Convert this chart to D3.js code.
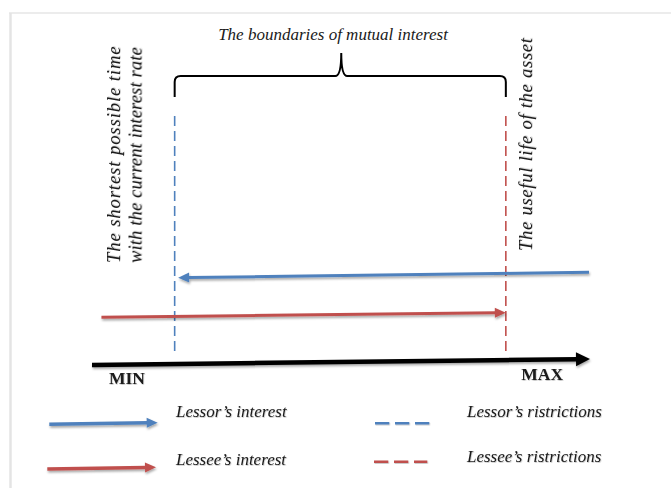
<!DOCTYPE html>
<html>
<head>
<meta charset="utf-8">
<script src="https://cdn.jsdelivr.net/npm/d3@7/dist/d3.min.js"></script>
<style>
  html, body { margin: 0; padding: 0; background: #ffffff; }
  svg { display: block; }
  text { font-family: "Liberation Serif", "Times New Roman", serif; fill: #1a1a1a; }
</style>
</head>
<body>
<svg id="chart" width="671" height="488"></svg>
<script>
// ---------------- data ----------------
const axisLabels = ["MIN", "MAX"];
const axisFrom = [0, 0];        // [x, level]
const axisTo = [100, 2.4];

const interestNames = ["Lessor’s interest", "Lessee’s interest"];
const interestStartX = [99.8, 1.9];
const interestStartLevel = [37.1, 19.1];
const interestEndX = [17.3, 83.1];
const interestEndLevel = [34.9, 20.9];

const restrictionNames = ["Lessor’s ristrictions", "Lessee’s ristrictions"];
const restrictionX = [16.6, 83.1];
const restrictionTop = [99.6, 99.6];
const restrictionBottom = [3.6, 4.0];

const boundaryTitle = "The boundaries of mutual interest";
const restrictionLabels = [
  ["The shortest possible time", "with the current interest rate"],
  ["The useful life of the asset"]
];

// ---------------- layout ----------------
const colors = ["#4F81BD", "#C0504D"];
const svg = d3.select("#chart");
const x = d3.scaleLinear().domain([0, 100]).range([92, 590]);
const y = d3.scaleLinear().domain([0, 100]).range([365, 115]);

const defs = svg.append("defs");
// user-space shadow (for untransformed shapes, incl. zero-height lines)
const f = defs.append("filter").attr("id", "shadow").attr("filterUnits", "userSpaceOnUse")
  .attr("x", 0).attr("y", 0).attr("width", 671).attr("height", 488);
f.append("feDropShadow").attr("dx", 0.8).attr("dy", 1.8).attr("stdDeviation", 1.1)
  .attr("flood-color", "#000").attr("flood-opacity", 0.35);
const fl = defs.append("filter").attr("id", "lshadow").attr("filterUnits", "userSpaceOnUse")
  .attr("x", 0).attr("y", 0).attr("width", 671).attr("height", 488);
fl.append("feDropShadow").attr("dx", 0.6).attr("dy", 0.8).attr("stdDeviation", 0.6)
  .attr("flood-color", "#000").attr("flood-opacity", 0.25);
// bbox-based shadow for text (works with transforms)
const ft = defs.append("filter").attr("id", "tshadow")
  .attr("x", "-10%").attr("y", "-40%").attr("width", "120%").attr("height", "180%");
ft.append("feDropShadow").attr("dx", 0.6).attr("dy", 0.8).attr("stdDeviation", 0.6)
  .attr("flood-color", "#000").attr("flood-opacity", 0.25);

// frame
svg.append("line").attr("x1", 9).attr("y1", 13).attr("x2", 671).attr("y2", 13)
  .attr("stroke", "#ececec").attr("stroke-width", 2);
svg.append("line").attr("x1", 10.5).attr("y1", 13).attr("x2", 10.5).attr("y2", 488)
  .attr("stroke", "#e4e4e4").attr("stroke-width", 2.5);

function arrow(g, x1, y1, x2, y2, color, w, headLen, headW) {
  const dx = x2 - x1, dy = y2 - y1, L = Math.hypot(dx, dy);
  const ux = dx / L, uy = dy / L, nx = -uy, ny = ux;
  const bx = x2 - ux * headLen, by = y2 - uy * headLen;
  const grp = g.append("g").attr("filter", "url(#shadow)");
  grp.append("line").attr("x1", x1).attr("y1", y1)
    .attr("x2", bx + ux * 1).attr("y2", by + uy * 1)
    .attr("stroke", color).attr("stroke-width", w);
  grp.append("path")
    .attr("d", `M${x2},${y2}L${bx + nx * headW / 2},${by + ny * headW / 2}L${bx - nx * headW / 2},${by - ny * headW / 2}Z`)
    .attr("fill", color);
}

// restriction dashed lines
restrictionX.forEach((v, i) => {
  svg.append("line")
    .attr("x1", x(v)).attr("x2", x(v))
    .attr("y1", y(restrictionTop[i])).attr("y2", y(restrictionBottom[i]))
    .attr("stroke", colors[i]).attr("stroke-width", 1.6)
    .attr("stroke-dasharray", "10,5");
});

// interest arrows
interestNames.forEach((n, i) => {
  arrow(svg, x(interestStartX[i]), y(interestStartLevel[i]),
        x(interestEndX[i]), y(interestEndLevel[i]), colors[i], 3, 11, 10);
});

// main axis
arrow(svg, x(axisFrom[0]), y(axisFrom[1]), x(axisTo[0]), y(axisTo[1]), "#000", 4.5, 14, 14);
svg.append("text").attr("x", x(7)).attr("y", 384).attr("text-anchor", "middle")
  .attr("font-weight", "bold").attr("font-size", 17.5).attr("filter", "url(#tshadow)").text(axisLabels[0]);
svg.append("text").attr("x", x(90.4)).attr("y", 379.5).attr("text-anchor", "middle")
  .attr("font-weight", "bold").attr("font-size", 17.5).attr("filter", "url(#tshadow)").text(axisLabels[1]);

// brace
const bl = x(restrictionX[0]), br = x(restrictionX[1]), bm = x((restrictionX[0] + restrictionX[1]) / 2) + 1;
const yEnd = 97, yH = 76, yTop = 53, r = 6;
svg.append("path")
  .attr("d", `M${bl},${yEnd} L${bl},${yH + r} Q${bl},${yH} ${bl + r},${yH} L${bm - r},${yH} Q${bm},${yH} ${bm},${yTop}
             Q${bm},${yH} ${bm + r},${yH} L${br - r},${yH} Q${br},${yH} ${br},${yH + r} L${br},${yEnd}`)
  .attr("fill", "none").attr("stroke", "#000").attr("stroke-width", 2);
svg.append("text").attr("x", x(48.4)).attr("y", 40).attr("text-anchor", "middle")
  .attr("font-style", "italic").attr("font-size", 17).text(boundaryTitle);

// rotated labels
const rotPos = [[[120, 263], [141.5, 263]], [[532, 251]]];
const rotSpacing = [[0.95, 0.15], [0.75]];
restrictionLabels.forEach((lines, i) => {
  lines.forEach((t, j) => {
    const [px, py] = rotPos[i][j];
    svg.append("text").attr("transform", `translate(${px},${py}) rotate(-90)`)
      .attr("font-style", "italic").attr("font-size", 18.5)
      .attr("letter-spacing", rotSpacing[i][j])
      .attr("filter", "url(#tshadow)").text(t);
  });
});

// legend
const legArrowY = [[424.3, 422.7], [469, 467.3]];
const legArrowX = [[49.3, 157.7], [47.3, 156]];
const legTextY = [417.3, 465];
interestNames.forEach((n, i) => {
  arrow(svg, legArrowX[i][0], legArrowY[i][0], legArrowX[i][1], legArrowY[i][1], colors[i], 3.5, 11, 10);
  svg.append("text").attr("x", 176).attr("y", legTextY[i]).attr("font-style", "italic")
    .attr("font-size", 17).attr("filter", "url(#tshadow)").text(n);
});
const legDashX = [[375, 430], [374, 427.3]];
const legDashY = [423.3, 461.7];
const legRTextY = [417.3, 461.7];
restrictionNames.forEach((n, i) => {
  svg.append("line").attr("x1", legDashX[i][0]).attr("x2", legDashX[i][1])
    .attr("y1", legDashY[i]).attr("y2", legDashY[i])
    .attr("stroke", colors[i]).attr("stroke-width", 2.5).attr("stroke-dasharray", "14.3,5.7")
    .attr("filter", "url(#lshadow)");
  svg.append("text").attr("x", 467).attr("y", legRTextY[i]).attr("font-style", "italic")
    .attr("font-size", 17).attr("filter", "url(#tshadow)").text(n);
});
</script>
</body>
</html>
